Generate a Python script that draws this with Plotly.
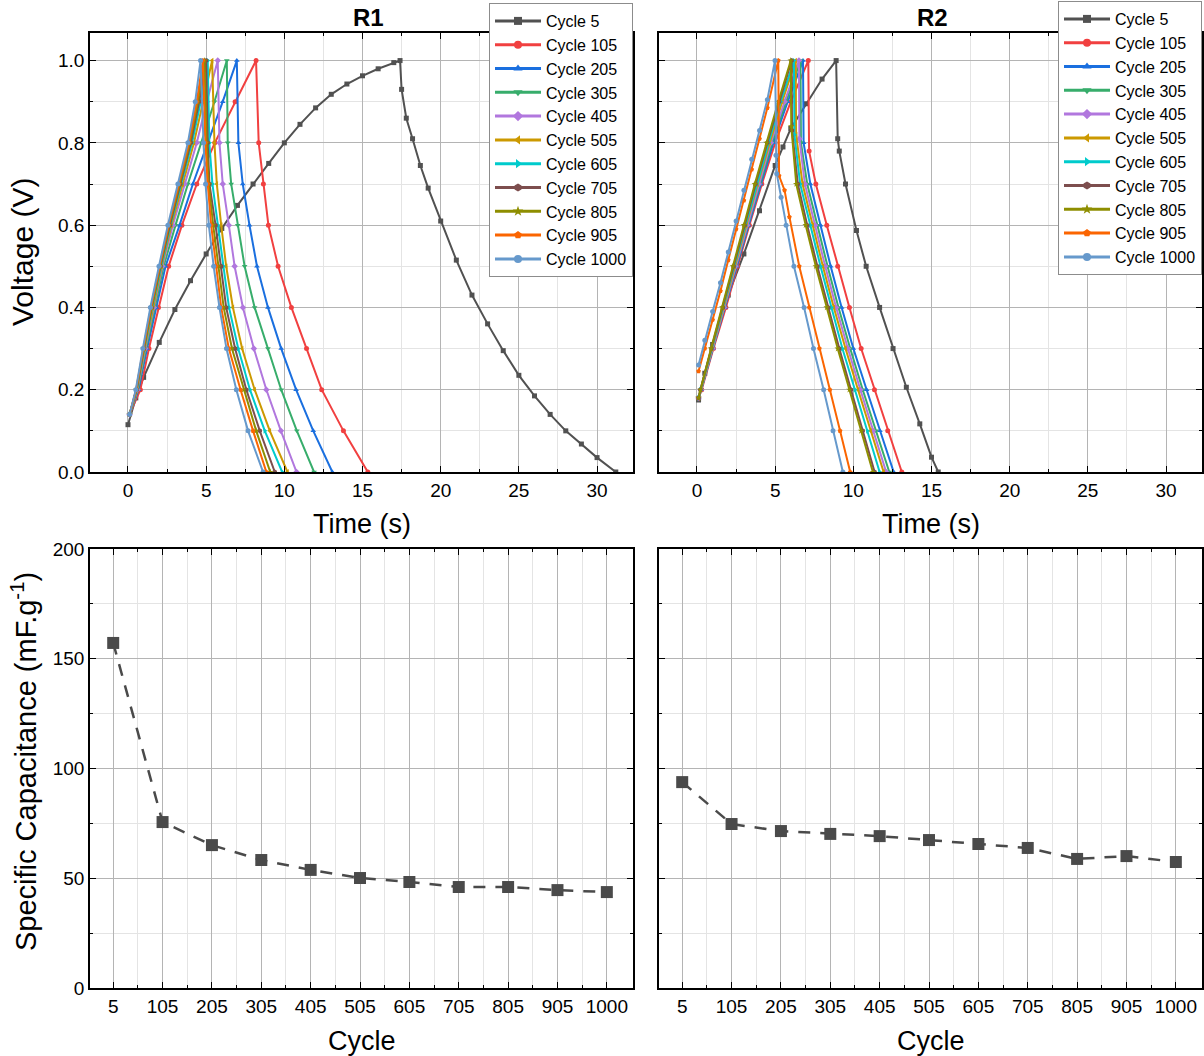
import plotly.graph_objects as go

# ---------------- data ----------------
cycle_names = ["Cycle 5", "Cycle 105", "Cycle 205", "Cycle 305", "Cycle 405", "Cycle 505",
               "Cycle 605", "Cycle 705", "Cycle 805", "Cycle 905", "Cycle 1000"]
cycle_labels = ["5", "105", "205", "305", "405", "505", "605", "705", "805", "905", "1000"]

# R1 galvanostatic charge/discharge curves (time s, voltage V)
r1_t_5 = [0.0, 0.5, 1.0, 2.0, 3.0, 4.0, 5.0, 6.0, 7.0, 8.0, 9.0, 10.0, 11.0, 12.0, 13.0, 14.0, 15.0, 16.0,
          17.0, 17.4, 17.5, 17.8, 18.2, 18.7, 19.2, 20.0, 21.0, 22.0, 23.0, 24.0, 25.0, 26.0, 27.0, 28.0,
          29.0, 30.0, 31.2]
r1_v_5 = [0.115, 0.18, 0.23, 0.315, 0.395, 0.465, 0.53, 0.592, 0.648, 0.70, 0.75, 0.80, 0.845, 0.885,
          0.918, 0.943, 0.963, 0.98, 0.995, 1.0, 0.93, 0.86, 0.81, 0.745, 0.69, 0.61, 0.515, 0.43, 0.36,
          0.295, 0.235, 0.185, 0.14, 0.10, 0.068, 0.035, 0.0]
r1_t_105 = [0.1, 0.79, 1.34, 1.95, 2.6, 3.45, 4.4, 5.55, 6.85, 8.19, 8.36, 8.66, 8.98, 9.6, 10.45, 11.42, 12.39, 13.78, 15.34]
r1_v_105 = [0.14, 0.2, 0.3, 0.4, 0.5, 0.6, 0.7, 0.8, 0.9, 1.0, 0.8, 0.7, 0.6, 0.5, 0.4, 0.3, 0.2, 0.1, 0.0]
r1_t_205 = [0.1, 0.67, 1.22, 1.81, 2.4, 3.3, 4.15, 5.1, 6.06, 6.96, 7.06, 7.34, 7.77, 8.25, 8.95, 9.8, 10.75, 11.85, 13.07]
r1_v_205 = [0.14, 0.2, 0.3, 0.4, 0.5, 0.6, 0.7, 0.8, 0.9, 1.0, 0.8, 0.7, 0.6, 0.5, 0.4, 0.3, 0.2, 0.1, 0.0]
r1_t_305 = [0.1, 0.63, 1.15, 1.7, 2.28, 3.04, 3.83, 4.68, 5.53, 6.32, 6.38, 6.6, 7.02, 7.46, 8.1, 8.95, 9.8, 10.8, 11.9]
r1_v_305 = [0.14, 0.2, 0.3, 0.4, 0.5, 0.6, 0.7, 0.8, 0.9, 1.0, 0.8, 0.7, 0.6, 0.5, 0.4, 0.3, 0.2, 0.1, 0.0]
r1_t_405 = [0.1, 0.6, 1.1, 1.65, 2.2, 2.87, 3.62, 4.4, 5.04, 5.74, 5.85, 6.06, 6.45, 6.82, 7.35, 8.05, 8.85, 9.78, 10.78]
r1_v_405 = [0.14, 0.2, 0.3, 0.4, 0.5, 0.6, 0.7, 0.8, 0.9, 1.0, 0.8, 0.7, 0.6, 0.5, 0.4, 0.3, 0.2, 0.1, 0.0]
r1_t_505 = [0.1, 0.58, 1.07, 1.6, 2.16, 2.78, 3.5, 4.22, 4.8, 5.38, 5.53, 5.68, 5.96, 6.28, 6.71, 7.3, 8.1, 9.07, 10.2]
r1_v_505 = [0.14, 0.2, 0.3, 0.4, 0.5, 0.6, 0.7, 0.8, 0.9, 1.0, 0.8, 0.7, 0.6, 0.5, 0.4, 0.3, 0.2, 0.1, 0.0]
r1_t_605 = [0.1, 0.56, 1.04, 1.55, 2.12, 2.72, 3.4, 4.1, 4.65, 5.1, 5.2, 5.4, 5.75, 6.1, 6.46, 7.05, 7.8, 8.75, 9.86]
r1_v_605 = [0.14, 0.2, 0.3, 0.4, 0.5, 0.6, 0.7, 0.8, 0.9, 1.0, 0.8, 0.7, 0.6, 0.5, 0.4, 0.3, 0.2, 0.1, 0.0]
r1_t_705 = [0.1, 0.55, 1.02, 1.52, 2.08, 2.68, 3.35, 4.02, 4.55, 5.0, 5.1, 5.21, 5.6, 5.96, 6.28, 6.85, 7.57, 8.43, 9.39]
r1_v_705 = [0.14, 0.2, 0.3, 0.4, 0.5, 0.6, 0.7, 0.8, 0.9, 1.0, 0.8, 0.7, 0.6, 0.5, 0.4, 0.3, 0.2, 0.1, 0.0]
r1_t_805 = [0.1, 0.53, 1.0, 1.5, 2.05, 2.63, 3.3, 3.95, 4.47, 4.89, 5.03, 5.16, 5.45, 5.8, 6.12, 6.65, 7.4, 8.2, 9.1]
r1_v_805 = [0.14, 0.2, 0.3, 0.4, 0.5, 0.6, 0.7, 0.8, 0.9, 1.0, 0.8, 0.7, 0.6, 0.5, 0.4, 0.3, 0.2, 0.1, 0.0]
r1_t_905 = [0.1, 0.52, 0.98, 1.47, 2.02, 2.6, 3.25, 3.9, 4.4, 4.79, 4.95, 5.1, 5.32, 5.64, 5.96, 6.45, 7.2, 8.0, 8.85]
r1_v_905 = [0.14, 0.2, 0.3, 0.4, 0.5, 0.6, 0.7, 0.8, 0.9, 1.0, 0.8, 0.7, 0.6, 0.5, 0.4, 0.3, 0.2, 0.1, 0.0]
r1_t_1000 = [0.1, 0.5, 0.95, 1.43, 1.98, 2.55, 3.19, 3.83, 4.3, 4.64, 4.83, 4.96, 5.17, 5.48, 5.85, 6.3, 6.93, 7.68, 8.64]
r1_v_1000 = [0.14, 0.2, 0.3, 0.4, 0.5, 0.6, 0.7, 0.8, 0.9, 1.0, 0.8, 0.7, 0.6, 0.5, 0.4, 0.3, 0.2, 0.1, 0.0]

# R2 galvanostatic charge/discharge curves
r2_t_5 = [0.1, 0.5, 1.0, 2.0, 3.0, 4.0, 5.0, 5.5, 6.0, 7.0, 8.0, 8.9, 9.0, 9.1, 9.5, 10.2, 10.82, 11.68,
          12.54, 13.39, 14.25, 15.0, 15.43]
r2_v_5 = [0.175, 0.24, 0.31, 0.43, 0.53, 0.635, 0.745, 0.79, 0.835, 0.895, 0.955, 1.0, 0.81, 0.78, 0.70,
          0.587, 0.5, 0.4, 0.3, 0.206, 0.117, 0.036, 0.0]
r2_t_105 = [0.1, 0.3, 1.05, 1.85, 2.6, 3.35, 4.15, 5.0, 6.0, 7.12, 7.17, 7.6, 8.3, 9.0, 9.75, 10.5, 11.35, 12.2, 13.1]
r2_v_105 = [0.18, 0.2, 0.3, 0.4, 0.5, 0.6, 0.7, 0.8, 0.9, 1.0, 0.78, 0.7, 0.6, 0.5, 0.4, 0.3, 0.2, 0.1, 0.0]
r2_t_205 = [0.1, 0.27, 1.02, 1.8, 2.55, 3.3, 4.08, 4.88, 5.8, 6.78, 6.82, 7.25, 7.9, 8.55, 9.25, 10.0, 10.85, 11.7, 12.58]
r2_v_205 = [0.18, 0.2, 0.3, 0.4, 0.5, 0.6, 0.7, 0.8, 0.9, 1.0, 0.8, 0.7, 0.6, 0.5, 0.4, 0.3, 0.2, 0.1, 0.0]
r2_t_305 = [0.1, 0.26, 1.0, 1.77, 2.5, 3.25, 4.02, 4.8, 5.7, 6.62, 6.65, 7.05, 7.7, 8.35, 9.05, 9.8, 10.6, 11.45, 12.3]
r2_v_305 = [0.18, 0.2, 0.3, 0.4, 0.5, 0.6, 0.7, 0.8, 0.9, 1.0, 0.8, 0.7, 0.6, 0.5, 0.4, 0.3, 0.2, 0.1, 0.0]
r2_t_405 = [0.1, 0.25, 0.98, 1.74, 2.46, 3.2, 3.95, 4.72, 5.6, 6.52, 6.55, 6.9, 7.55, 8.2, 8.9, 9.65, 10.45, 11.25, 12.1]
r2_v_405 = [0.18, 0.2, 0.3, 0.4, 0.5, 0.6, 0.7, 0.8, 0.9, 1.0, 0.81, 0.7, 0.6, 0.5, 0.4, 0.3, 0.2, 0.1, 0.0]
r2_t_505 = [0.1, 0.24, 0.96, 1.7, 2.42, 3.15, 3.88, 4.65, 5.45, 6.31, 6.34, 6.75, 7.4, 8.05, 8.75, 9.5, 10.3, 11.1, 11.94]
r2_v_505 = [0.18, 0.2, 0.3, 0.4, 0.5, 0.6, 0.7, 0.8, 0.9, 1.0, 0.82, 0.7, 0.6, 0.5, 0.4, 0.3, 0.2, 0.1, 0.0]
r2_t_605 = [0.1, 0.23, 0.94, 1.68, 2.38, 3.1, 3.82, 4.58, 5.35, 6.2, 6.23, 6.6, 7.25, 7.9, 8.6, 9.3, 10.1, 10.9, 11.68]
r2_v_605 = [0.18, 0.2, 0.3, 0.4, 0.5, 0.6, 0.7, 0.8, 0.9, 1.0, 0.82, 0.7, 0.6, 0.5, 0.4, 0.3, 0.2, 0.1, 0.0]
r2_t_705 = [0.1, 0.22, 0.92, 1.65, 2.34, 3.05, 3.75, 4.5, 5.25, 6.05, 6.08, 6.45, 7.05, 7.7, 8.4, 9.1, 9.85, 10.6, 11.36]
r2_v_705 = [0.18, 0.2, 0.3, 0.4, 0.5, 0.6, 0.7, 0.8, 0.9, 1.0, 0.83, 0.7, 0.6, 0.5, 0.4, 0.3, 0.2, 0.1, 0.0]
r2_t_805 = [0.1, 0.22, 0.9, 1.62, 2.3, 3.0, 3.7, 4.45, 5.2, 6.0, 6.03, 6.35, 6.95, 7.6, 8.3, 9.0, 9.75, 10.5, 11.25]
r2_v_805 = [0.18, 0.2, 0.3, 0.4, 0.5, 0.6, 0.7, 0.8, 0.9, 1.0, 0.84, 0.7, 0.6, 0.5, 0.4, 0.3, 0.2, 0.1, 0.0]
r2_t_905 = [0.1, 0.5, 1.0, 1.5, 2.0, 2.5, 3.0, 3.5, 4.0, 4.5, 5.2, 5.25, 5.6, 5.91, 6.54, 7.18, 7.83, 8.5, 9.15, 9.8]
r2_v_905 = [0.245, 0.30, 0.37, 0.44, 0.515, 0.59, 0.66, 0.735, 0.81, 0.885, 1.0, 0.72, 0.685, 0.62, 0.5, 0.4, 0.3, 0.2, 0.1, 0.0]
r2_t_1000 = [0.1, 0.5, 1.0, 1.5, 2.0, 2.5, 3.0, 3.5, 4.0, 4.5, 4.99, 5.05, 5.1, 5.38, 5.7, 6.2, 6.85, 7.45, 8.1, 8.7, 9.33]
r2_v_1000 = [0.26, 0.32, 0.39, 0.46, 0.535, 0.61, 0.685, 0.76, 0.83, 0.905, 1.0, 0.77, 0.725, 0.668, 0.6, 0.5, 0.4, 0.3, 0.2, 0.1, 0.0]

# Specific capacitance (mF/g) vs cycle
cap_r1 = [157.2, 75.6, 65.1, 58.3, 53.8, 50.1, 48.3, 46.0, 46.0, 44.6, 43.7]
cap_r2 = [93.8, 74.7, 71.5, 70.2, 69.2, 67.4, 65.6, 63.8, 58.8, 60.1, 57.4]

# ---------------- style ----------------
colors = ["#515151", "#F14040", "#1A6FDF", "#37AD6B", "#B177DE", "#CC9900",
          "#00CBCC", "#7D4E4E", "#8E8E00", "#FB6501", "#6699CC"]
symbols = ["square", "circle", "triangle-up", "triangle-down", "diamond", "triangle-left",
           "triangle-right", "hexagon", "star", "pentagon", "circle"]
FONT = "Arial, Liberation Sans, sans-serif"

r1_t = [r1_t_5, r1_t_105, r1_t_205, r1_t_305, r1_t_405, r1_t_505, r1_t_605, r1_t_705, r1_t_805, r1_t_905, r1_t_1000]
r1_v = [r1_v_5, r1_v_105, r1_v_205, r1_v_305, r1_v_405, r1_v_505, r1_v_605, r1_v_705, r1_v_805, r1_v_905, r1_v_1000]
r2_t = [r2_t_5, r2_t_105, r2_t_205, r2_t_305, r2_t_405, r2_t_505, r2_t_605, r2_t_705, r2_t_805, r2_t_905, r2_t_1000]
r2_v = [r2_v_5, r2_v_105, r2_v_205, r2_v_305, r2_v_405, r2_v_505, r2_v_605, r2_v_705, r2_v_805, r2_v_905, r2_v_1000]

fig = go.Figure()

for tt, vv, xa, ya, lg in [(r1_t, r1_v, "x", "y", "legend"), (r2_t, r2_v, "x2", "y2", "legend2")]:
    for i in range(len(cycle_names)):
        fig.add_trace(go.Scatter(
            x=tt[i], y=vv[i], xaxis=xa, yaxis=ya,
            mode="lines+markers", name=cycle_names[i], showlegend=False,
            line=dict(color=colors[i], width=2),
            marker=dict(symbol=symbols[i], size=5, color=colors[i], line=dict(width=0)),
        ))
        # legend entry (bigger marker, like the reference legend)
        fig.add_trace(go.Scatter(
            x=[None], y=[None], xaxis=xa, yaxis=ya, legend=lg,
            mode="lines+markers", name=cycle_names[i], showlegend=True,
            line=dict(color=colors[i], width=3),
            marker=dict(symbol=symbols[i], size=8, color=colors[i], line=dict(width=0)),
        ))

xcat = list(range(len(cycle_labels)))
for cap, xa, ya in [(cap_r1, "x3", "y3"), (cap_r2, "x4", "y4")]:
    fig.add_trace(go.Scatter(
        x=xcat, y=cap, xaxis=xa, yaxis=ya, mode="lines+markers", showlegend=False,
        line=dict(color="#4a4a4a", width=2.5, dash="12px,10px"),
        marker=dict(symbol="square", size=12, color="#4a4a4a"),
    ))

W, H = 1204, 1056
def xd(a, b):
    return [a / W, b / W]
def yd(top, bottom):
    return [1 - bottom / H, 1 - top / H]

MAJ = "#b4b4b4"
MIN = "#e4e4e4"
common = dict(showline=True, linecolor="black", linewidth=1.5, mirror="ticks",
              ticks="inside", ticklen=6, tickwidth=1.3, tickcolor="black",
              showgrid=True, gridcolor=MAJ, gridwidth=1, zeroline=False,
              tickfont=dict(family=FONT, size=19, color="black"))

def time_axis(dom):
    return dict(common, domain=dom, range=[-2.43, 32.3], tickmode="linear", tick0=0, dtick=5,
                minor=dict(tick0=0, dtick=2.5, showgrid=True, gridcolor=MIN, ticks="inside",
                           ticklen=3, tickcolor="black"))

def volt_axis(dom, anchor, labels):
    return dict(common, domain=dom, anchor=anchor, range=[0, 1.067], tickmode="linear", tick0=0,
                dtick=0.2, tickformat=".1f", showticklabels=labels,
                minor=dict(tick0=0, dtick=0.1, showgrid=True, gridcolor=MIN, ticks="inside",
                           ticklen=3, tickcolor="black"))

def cyc_axis(dom):
    return dict(common, domain=dom, range=[-0.47, 10.53], tickmode="array", tickvals=xcat,
                ticktext=cycle_labels,
                minor=dict(tickmode="array", tickvals=[k + 0.5 for k in xcat[:-1]], showgrid=True,
                           gridcolor=MIN, ticks="inside", ticklen=3, tickcolor="black"))

def cap_axis(dom, anchor, labels):
    return dict(common, domain=dom, anchor=anchor, range=[0, 200], tickmode="linear", tick0=0,
                dtick=50, showticklabels=labels,
                minor=dict(tick0=0, dtick=25, showgrid=True, gridcolor=MIN, ticks="inside",
                           ticklen=3, tickcolor="black"))

xl, xr = xd(90, 633), xd(659, 1202)
yt, yb = yd(33, 472), yd(549, 988)

legend_common = dict(font=dict(family=FONT, size=16, color="black"), bgcolor="white",
                     bordercolor="#8c8c8c", borderwidth=1, itemwidth=46, tracegroupgap=0,
                     xanchor="right", yanchor="top", itemclick=False, itemdoubleclick=False)

fig.update_layout(
    width=W, height=H, margin=dict(l=0, r=0, t=0, b=0, autoexpand=False),
    paper_bgcolor="white", plot_bgcolor="white",
    font=dict(family=FONT, color="black"),
    xaxis=dict(time_axis(xl), anchor="y"),
    yaxis=volt_axis(yt, "x", True),
    xaxis2=dict(time_axis(xr), anchor="y2"),
    yaxis2=volt_axis(yt, "x2", False),
    xaxis3=dict(cyc_axis(xl), anchor="y3"),
    yaxis3=cap_axis(yb, "x3", True),
    xaxis4=dict(cyc_axis(xr), anchor="y4"),
    yaxis4=cap_axis(yb, "x4", False),
    legend=dict(legend_common, x=633 / W, y=1 - 3 / H),
    legend2=dict(legend_common, x=1202 / W, y=1 - 1 / H),
    showlegend=True,
)

def txt(text, x, y, size, angle=0):
    return dict(text=text, x=x / W, y=1 - y / H, xref="paper", yref="paper", showarrow=False,
                xanchor="center", yanchor="middle", textangle=angle,
                font=dict(family=FONT, size=size, color="black"))

ann = [txt("<b>R1</b>", 368, 17, 24), txt("<b>R2</b>", 932, 17, 24)]
for cx in [(90 + 633) / 2, (659 + 1202) / 2]:
    ann.append(txt("Time (s)", cx, 524, 27))
    ann.append(txt("Cycle", cx, 1041, 27))
ann.append(txt("Voltage (V)", 22, 252, 30, -90))
ann.append(txt("Specific Capacitance (mF.g<sup>-1</sup>)", 24, 762, 29, -90))
fig.update_layout(annotations=ann)

fig.write_html("out.html", config={"displayModeBar": False, "staticPlot": False},
               post_script="document.body.style.margin='0px';document.body.style.overflow='hidden';")
